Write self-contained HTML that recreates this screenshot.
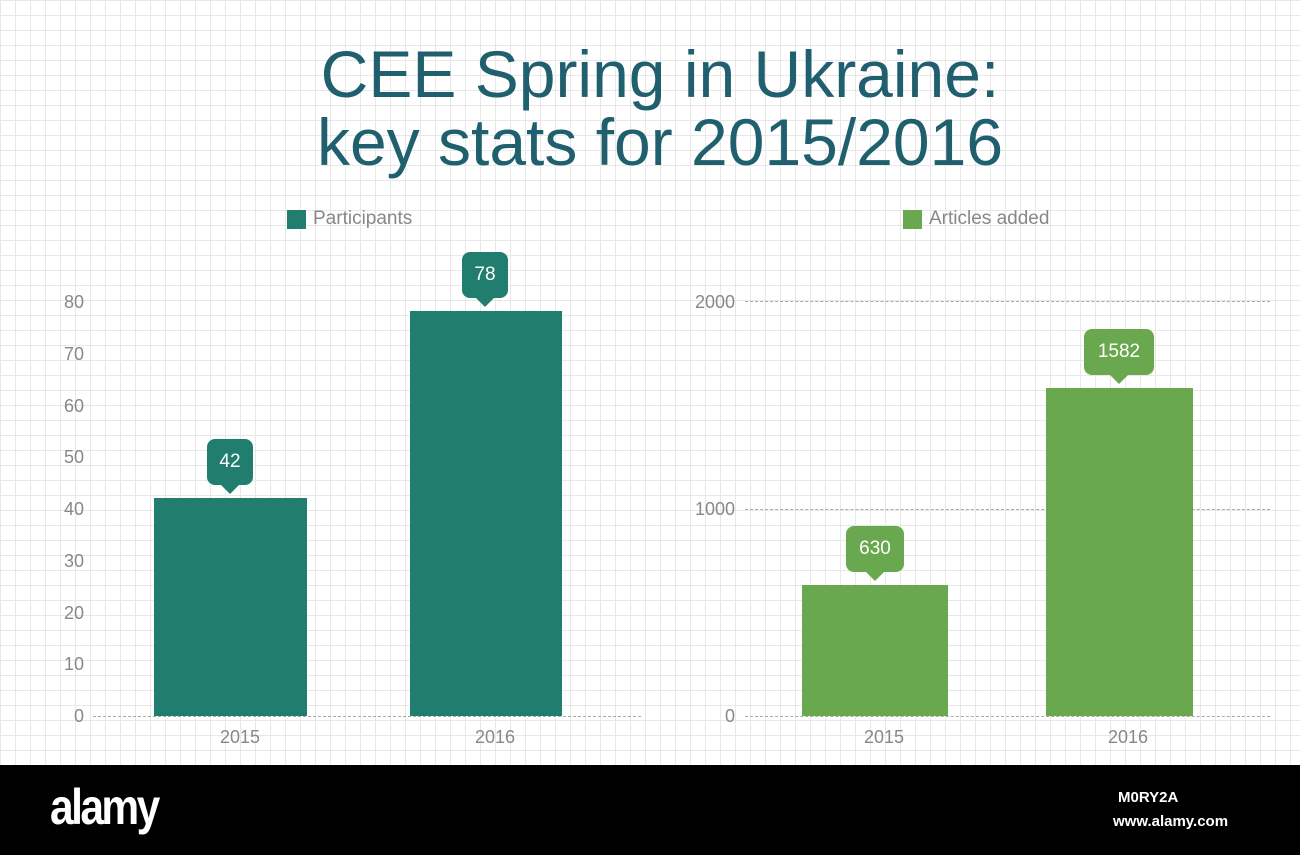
<!DOCTYPE html>
<html><head><style>
body{margin:0;width:1300px;height:855px;overflow:hidden;font-family:"Liberation Sans",sans-serif;position:relative;
background-color:#fff;
background-image:linear-gradient(#e8e8e8 1px,transparent 1px),linear-gradient(90deg,#e8e8e8 1px,transparent 1px);
background-size:15px 15px;}
.a{position:absolute}
.title{position:absolute;left:0;width:1320px;text-align:center;top:40px;font-size:66px;line-height:68px;color:#1f5f6e}
.tk{position:absolute;font-size:18px;color:#888;text-align:right;width:50px}
.xl{position:absolute;font-size:18px;color:#888;text-align:center;width:100px;top:727px}
.tip{position:absolute;color:#fff;font-size:19px;text-align:center;border-radius:8px;height:46px;line-height:46px}
.tip:after{content:"";position:absolute;left:50%;bottom:-9px;margin-left:-10px;border-left:10px solid transparent;border-right:10px solid transparent;border-top:10px solid;border-top-color:inherit}
.dash{position:absolute;height:0;border-top:1px dashed #aaa}
</style></head><body>
<div class="title">CEE Spring in Ukraine:<br>key stats for 2015/2016</div>

<div class="a" style="left:287px;top:210px;width:19px;height:19px;background:#217d6e"></div>
<div class="a" style="left:313px;top:208px;font-size:19px;color:#888">Participants</div>
<div class="a" style="left:903px;top:210px;width:19px;height:19px;background:#6aa84f"></div>
<div class="a" style="left:929px;top:208px;font-size:19px;color:#888">Articles added</div>

<div class="tk" style="left:34px;top:292px">80</div>
<div class="tk" style="left:34px;top:344px">70</div>
<div class="tk" style="left:34px;top:396px">60</div>
<div class="tk" style="left:34px;top:447px">50</div>
<div class="tk" style="left:34px;top:499px">40</div>
<div class="tk" style="left:34px;top:551px">30</div>
<div class="tk" style="left:34px;top:603px">20</div>
<div class="tk" style="left:34px;top:654px">10</div>
<div class="tk" style="left:34px;top:706px">0</div>
<div class="dash" style="left:93px;width:548px;top:716px"></div>
<div class="a" style="left:154px;top:498px;width:153px;height:218px;background:#217d6e"></div>
<div class="a" style="left:410px;top:311px;width:152px;height:405px;background:#217d6e"></div>
<div class="tip" style="left:207px;top:439px;width:46px;background:#217d6e;border-top-color:#217d6e">42</div>
<div class="tip" style="left:462px;top:252px;width:46px;background:#217d6e;border-top-color:#217d6e">78</div>
<div class="xl" style="left:190px">2015</div>
<div class="xl" style="left:445px">2016</div>

<div class="tk" style="left:685px;top:292px">2000</div>
<div class="tk" style="left:685px;top:499px">1000</div>
<div class="tk" style="left:685px;top:706px">0</div>
<div class="dash" style="left:745px;width:525px;top:301px"></div>
<div class="dash" style="left:745px;width:525px;top:509px"></div>
<div class="dash" style="left:745px;width:525px;top:716px"></div>
<div class="a" style="left:802px;top:585px;width:146px;height:131px;background:#6aa84f"></div>
<div class="a" style="left:1046px;top:388px;width:147px;height:328px;background:#6aa84f"></div>
<div class="tip" style="left:846px;top:526px;width:58px;background:#6aa84f;border-top-color:#6aa84f">630</div>
<div class="tip" style="left:1084px;top:329px;width:70px;background:#6aa84f;border-top-color:#6aa84f">1582</div>
<div class="xl" style="left:834px">2015</div>
<div class="xl" style="left:1078px">2016</div>

<div class="a" style="left:0;top:765px;width:1300px;height:90px;background:#000"></div>
<div class="a" style="left:50px;top:778px;font-size:50px;font-weight:bold;color:#fff;letter-spacing:-3px;transform:scaleX(0.85);transform-origin:left">alamy</div>
<div class="a" style="left:1118px;top:789px;font-size:15px;font-weight:bold;color:#fff">M0RY2A</div>
<div class="a" style="left:1113px;top:813px;font-size:15px;font-weight:bold;color:#fff">www.alamy.com</div>
</body></html>
